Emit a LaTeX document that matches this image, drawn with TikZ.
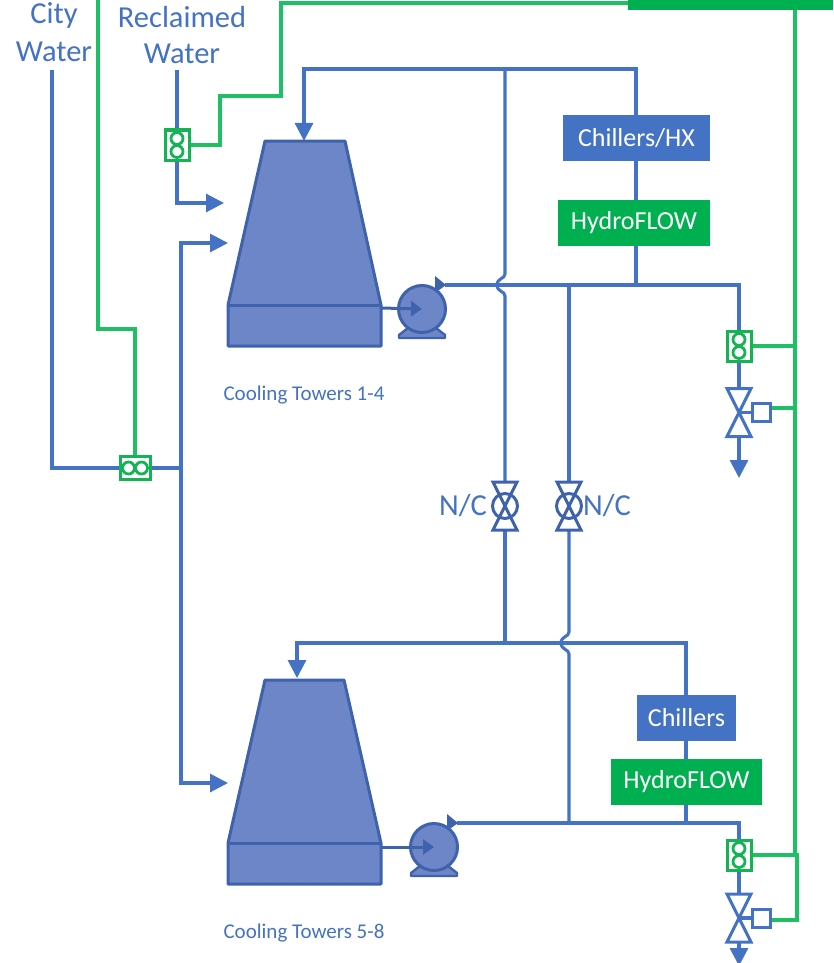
\documentclass[tikz,border=0pt]{standalone}
\usepackage{fontspec}
\setmainfont{Carlito}
\usetikzlibrary{arrows.meta,backgrounds}
\definecolor{pipeblue}{HTML}{4472C4}
\definecolor{towerfill}{HTML}{6C86C8}
\definecolor{towerline}{HTML}{3F62AC}
\definecolor{sigtone}{HTML}{1FBF64}
\definecolor{hfgreen}{HTML}{00B050}
\definecolor{metergreen}{HTML}{14B454}
\tikzset{
  pipe/.style={draw=pipeblue,line width=3.05pt},
  signal/.style={draw=sigtone,line width=3.05pt},
  flowtip/.style={-{Triangle[length=18pt,width=18pt]}},
  towerpart/.style={fill=towerfill,draw=towerline,line width=3pt,line join=round},
  equipbox/.style={fill=pipeblue,text=white,inner sep=0pt,font=\fontsize{26}{29}\selectfont},
  hfbox/.style={fill=hfgreen,text=white,inner sep=0pt,font=\fontsize{26}{29}\selectfont},
  bigtext/.style={text=pipeblue,inner sep=0pt,font=\fontsize{30.5}{34}\selectfont},
  smalltext/.style={text=pipeblue,inner sep=0pt,font=\fontsize{21}{24}\selectfont},
  meterframe/.style={draw=metergreen,line width=3pt,fill=white,inner sep=0pt},
  meter/.pic={
    \node[meterframe,minimum width=24pt,minimum height=30pt] (-box) at (0,0) {};
    \draw[metergreen,line width=2.8pt,fill=white] (0,-6.5) circle (6pt) (0,6.5) circle (6pt);
  },
  meterh/.pic={
    \node[meterframe,minimum width=30pt,minimum height=23pt] (-box) at (0,0) {};
    \draw[metergreen,line width=2.8pt,fill=white] (-6.5,0) circle (6pt) (6.5,0) circle (6pt);
  },
  ctrlvalve/.pic={
    \draw[pipeblue,line width=3pt,line join=miter,fill=white] (-12,-24) -- (12,-24) -- (0,0) -- cycle;
    \draw[pipeblue,line width=3pt,line join=miter,fill=white] (-12,24) -- (12,24) -- (0,0) -- cycle;
    \node[draw=pipeblue,line width=3pt,fill=white,minimum size=18pt,inner sep=0pt] (-act) at (22.5,0) {};
    \draw[pipeblue,line width=3.05pt] (0,0) -- (-act.west);
    \coordinate (-top) at (0,-24);
    \coordinate (-bot) at (0,24);
  },
  ncvalve/.pic={
    \draw[towerline,line width=3pt,line join=miter] (-12,-24) -- (12,-24) -- (-12,24) -- (12,24) -- cycle;
    \draw[towerline,line width=3pt] (0,0) circle (12.5pt);
    \coordinate (-top) at (0,-24);
    \coordinate (-bot) at (0,24);
  },
  pumpbody/.pic={
    \fill[towerfill,draw=towerline,line width=2.4pt,line join=round] (-23,29) -- (23,29) -- (23,26) -- (14,19) -- (-14,19) -- (-23,26) -- cycle;
    \fill[towerline] (13,-33) -- (24,-24) -- (13,-16) -- cycle;
    \draw[towerline,line width=3pt,fill=towerfill] (0,0) circle (23.5pt);
    \coordinate (-out) at (23,-24);
    \coordinate (-in) at (0,0);
  },
}
\begin{document}
\begin{tikzpicture}[x=1pt,y=-1pt]
\useasboundingbox (0,0) rectangle (833,963);
\clip (0,0) rectangle (833,963);

% labels
\node[bigtext] (city) at (54,15) {City};
\node[bigtext] (citywater) at (54,52) {Water};
\node[bigtext] (recl) at (182,17) {Reclaimed};
\node[bigtext] (reclwater) at (182,54) {Water};
\node[smalltext] (ct1) at (304,395) {Cooling Towers 1-4};
\node[smalltext] (ct2) at (304,933) {Cooling Towers 5-8};
\node[bigtext] (nc1) at (463,506) {N/C};
\node[bigtext] (nc2) at (607,506) {N/C};

% boxes
\node[equipbox,minimum width=147pt,minimum height=46pt] (chx) at (636.5,138) {Chillers/HX};
\node[hfbox,minimum width=152pt,minimum height=46pt] (hf1) at (634,223) {HydroFLOW};
\node[equipbox,minimum width=99pt,minimum height=46pt] (ch2) at (686.5,718) {Chillers};
\node[hfbox,minimum width=151pt,minimum height=46pt] (hf2) at (686.5,782) {HydroFLOW};
\node[fill=hfgreen,minimum width=205pt,minimum height=11pt,inner sep=0pt] (ctrl) at (730.5,5) {};

% towers
\draw[towerpart] (265,141) -- (345,141) -- (381,305) -- (381,346) -- (228,346) -- (228,305) -- cycle;
\draw[towerline,line width=3pt] (228,305) -- (381,305);
\coordinate (t1out) at (381,308);
\coordinate (t1a) at (304,141);
\coordinate (t1b) at (228,243);
\coordinate (t1c) at (224,203);
\draw[towerpart] (265,680) -- (344,680) -- (381,843) -- (381,884) -- (228,884) -- (228,843) -- cycle;
\draw[towerline,line width=3pt] (228,843) -- (381,843);
\coordinate (t2out) at (381,847);
\coordinate (t2a) at (297,678);
\coordinate (t2b) at (228,783);

% equipment
\pic (p1) at (422,309) {pumpbody};
\pic (p2) at (434,847) {pumpbody};
\pic (mr) at (177,145) {meter};
\pic (mc) at (135,468) {meterh};
\pic (m1) at (739,346) {meter};
\pic (m2) at (739,855) {meter};
\pic (v1) at (739,412.5) {ctrlvalve};
\pic (v2) at (739,918) {ctrlvalve};
\pic (n1) at (505,506) {ncvalve};
\pic (n2) at (569,506) {ncvalve};

% free ends and junctions
\coordinate (cs) at (52,70);
\coordinate (rs) at (177,70);
\coordinate (split) at (181,468);
\coordinate (gs) at (98,-2);
\coordinate (t1l) at (304,69);
\coordinate (j1) at (505,69);
\coordinate (j2) at (636,69);
\coordinate (j3) at (636,285);
\coordinate (j4) at (569,285);
\coordinate (r1) at (739,285);
\coordinate (h1a) at (505,274);
\coordinate (h1m) at (497,285);
\coordinate (h1b) at (505,296);
\coordinate (t2l) at (297,643);
\coordinate (k1) at (505,643);
\coordinate (k2) at (686,643);
\coordinate (k3) at (686,823);
\coordinate (k4) at (569,823);
\coordinate (r2) at (739,823);
\coordinate (h2a) at (569,632);
\coordinate (h2m) at (561,643);
\coordinate (h2b) at (569,654);
\coordinate (d1) at (739,478);
\coordinate (d2) at (739,966);
\coordinate (gv) at (795,10);
\coordinate (gv1) at (795,346);
\coordinate (gv2) at (795,408);
\coordinate (gv3) at (795,855);
\coordinate (gv4) at (797,855);
\coordinate (gv5) at (797,920);

\begin{scope}[on background layer]
% city and reclaimed water
\draw[pipe] (cs) |- (mc-box.west);
\draw[pipe] (mc-box.east) -- (split);
\draw[pipe,flowtip] (split) |- (t1b);
\draw[pipe,flowtip] (split) |- (t2b);
\draw[pipe] (rs) -- (mr-box.north);
\draw[pipe,flowtip] (mr-box.south) |- (t1c);
% upper loop
\draw[pipe,flowtip] (j1) -| (t1a);
\draw[pipe] (j1) -- (j2) -- (j3);
\draw[pipe] (p1-out) -- (r1) -- (m1-box.north);
\draw[pipe] (m1-box.south) -- (v1-top);
\draw[pipe,flowtip] (v1-bot) -- (d1);
\draw[pipe] (j1) -- (h1a) .. controls (505,279) and (497,278) .. (h1m) .. controls (497,292) and (505,291) .. (h1b) -- (n1-top);
\draw[pipe] (j4) -- (n2-top);
% lower loop
\draw[pipe] (n1-bot) -- (k1);
\draw[pipe,flowtip] (k1) -| (t2a);
\draw[pipe] (k1) -- (k2) -- (k3);
\draw[pipe] (n2-bot) -- (h2a) .. controls (569,637) and (561,636) .. (h2m) .. controls (561,650) and (569,649) .. (h2b) -- (k4);
\draw[pipe] (p2-out) -- (r2) -- (m2-box.north);
\draw[pipe] (m2-box.south) -- (v2-top);
\draw[pipe,flowtip] (v2-bot) -- (d2);
% signal lines
\draw[signal] (gs) |- (135,329) -- (mc-box.north);
\draw[signal] (mr-box.east) -- (220,145) -- (220,96) -- (281,96) -- (281,3) -- (ctrl.west |- 0,3);
\draw[signal] (gv) -- (gv3);
\draw[signal] (m1-box.east) -- (gv1);
\draw[signal] (v1-act.east |- gv2) -- (gv2);
\draw[signal] (m2-box.east) -- (gv4) -- (gv5) -- (v2-act.east |- gv5);
\end{scope}
% pump inlet lines, over the tower and pump body
\draw[towerline,line width=3pt,-{Triangle[length=11pt,width=15pt]}] (t1out) -- (p1-in);
\draw[towerline,line width=3pt,-{Triangle[length=11pt,width=15pt]}] (t2out) -- (p2-in);
\end{tikzpicture}
\end{document}
